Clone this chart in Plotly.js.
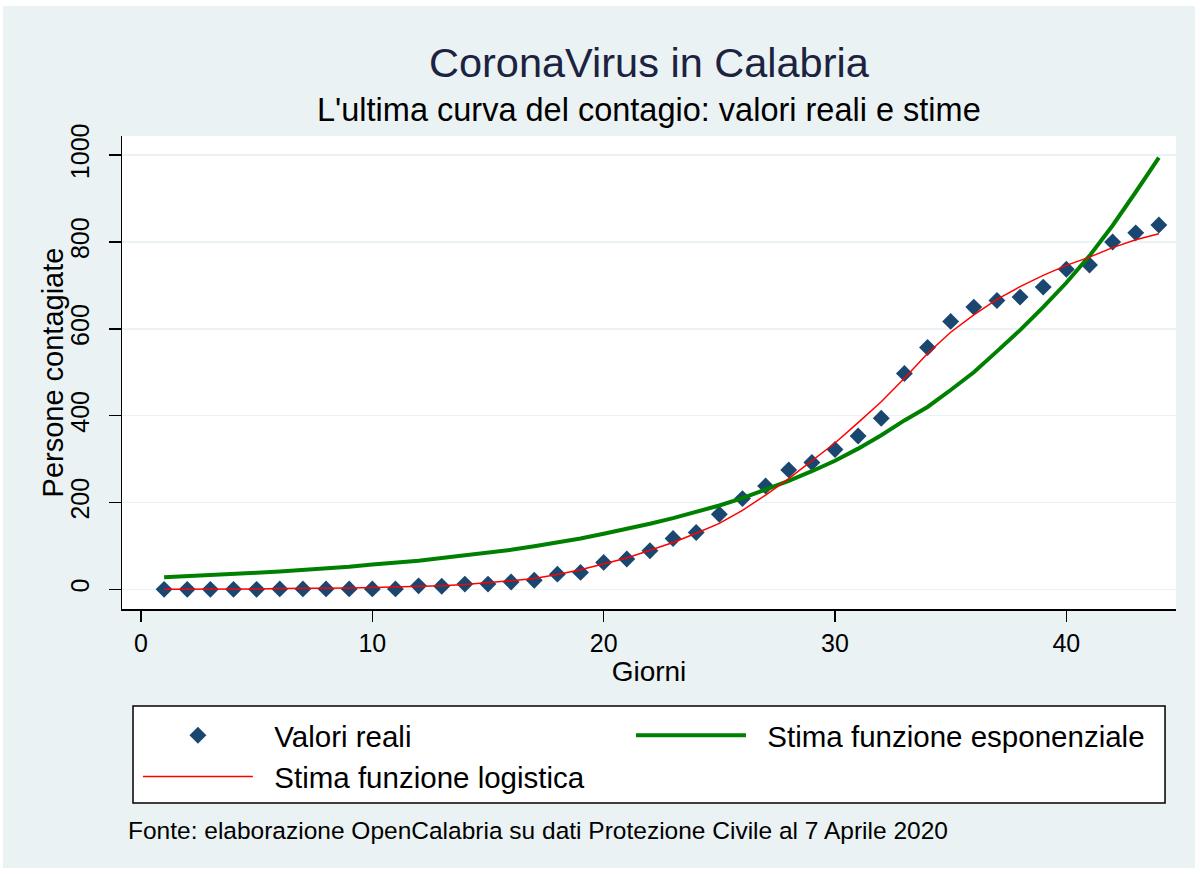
<!DOCTYPE html>
<html>
<head>
<meta charset="utf-8">
<script src="https://cdn.plot.ly/plotly-3.0.1.min.js"></script>
<style>
  html, body { margin: 0; padding: 0; background: #ffffff; }
  #chart { position: absolute; left: 3px; top: 6px; width: 1192px; height: 862px; }
</style>
</head>
<body>
<div id="chart"></div>
<script>
// Giorni (days)
const giorni = [1,2,3,4,5,6,7,8,9,10,11,12,13,14,15,16,17,18,19,20,21,22,
                23,24,25,26,27,28,29,30,31,32,33,34,35,36,37,38,39,40,41,42,43,44];
// Valori reali (observed cases)
const valoriReali = [0,0,0,0,0,1,1,1,1,1,1,8,7,12,12,17,21,35,39,62,70,89,
                     117,131,173,209,238,275,292,322,353,394,497,557,617,650,665,673,696,737,747,800,821,839];
// Stima funzione esponenziale
const stimaEsponenziale = [28,30,33,35,38,41,44,48,52,57,61,66,72,78,84,91,99,107,117,128,139,151,
                           164,178,193,210,229,250,272,296,324,355,389,420,459,500,548,597,650,706,768,838,915,994];
// Stima funzione logistica
const stimaLogistica = [0,0,0,1,1,2,2,3,3,4,5,6,8,11,15,20,25,34,45,58,72,90,
                        108,129,152,182,217,255,295,337,384,432,486,543,592,632,668,697,723,746,765,787,805,819];

const xTicks = [0,10,20,30,40];
const yTicks = [0,200,400,600,800,1000];

const FONT = 'Liberation Sans, Arial, sans-serif';

const traces = [
  {
    x: giorni, y: valoriReali, type: 'scatter', mode: 'markers',
    name: '\u00a0\u00a0Valori reali', legend: 'legend',
    marker: { symbol: 'diamond', size: 13, color: '#1a476f' }
  },
  {
    x: giorni, y: stimaEsponenziale, type: 'scatter', mode: 'lines',
    name: '\u00a0\u00a0Stima funzione esponenziale', legend: 'legend2',
    line: { color: '#008000', width: 4 }
  },
  {
    x: giorni, y: stimaLogistica, type: 'scatter', mode: 'lines',
    name: '\u00a0\u00a0Stima funzione logistica', legend: 'legend',
    line: { color: '#ff0000', width: 1.5 }
  }
];

const legendCommon = {
  orientation: 'v',
  yanchor: 'top',
  y: -0.2125,
  itemwidth: 110,
  bgcolor: 'rgba(0,0,0,0)', borderwidth: 0,
  font: { size: 29.5, family: FONT, color: '#000' },
  traceorder: 'normal'
};

const layout = {
  width: 1192, height: 862,
  paper_bgcolor: '#eaf2f3',
  plot_bgcolor: '#ffffff',
  margin: { l: 119, r: 19, t: 130, b: 259 },
  font: { family: FONT, color: '#000000' },
  showlegend: true,
  xaxis: {
    range: [-0.82, 44.74],
    tickvals: xTicks, ticktext: xTicks.map(String),
    ticks: 'outside', ticklen: 11, tickwidth: 1.5, tickcolor: '#000',
    showline: true, linecolor: '#000', linewidth: 1.5,
    showgrid: false, zeroline: false,
    tickfont: { size: 25, family: FONT },
    title: { text: 'Giorni', font: { size: 28, family: FONT }, standoff: 2 }
  },
  yaxis: {
    range: [-45.3, 1044],
    tickvals: yTicks, ticktext: yTicks.map(String),
    tickangle: -90,
    ticks: 'outside', ticklen: 12, tickwidth: 1.5, tickcolor: '#000',
    showline: true, linecolor: '#000', linewidth: 1.5,
    showgrid: true, gridcolor: '#eaf2f3', gridwidth: 1.5,
    zeroline: false,
    tickfont: { size: 25, family: FONT },
    ticklabelstandoff: 10
  },
  legend: Object.assign({}, legendCommon, { x: 0.0151, xanchor: 'left' }),
  legend2: Object.assign({}, legendCommon, { x: 0.4829, xanchor: 'left' }),
  shapes: [
    {
      type: 'rect', xref: 'paper', yref: 'paper', layer: 'above',
      x0: 0.01044, x1: 0.9896, y0: -0.410, y1: -0.205,
      fillcolor: '#ffffff', line: { color: '#000000', width: 1.5 }
    }
  ],
  annotations: [
    {
      text: 'CoronaVirus in Calabria', xref: 'paper', yref: 'paper',
      x: 0.5, y: 1, yshift: 74, xanchor: 'center', yanchor: 'middle', showarrow: false,
      font: { size: 41.5, family: FONT, color: '#1c2340' }
    },
    {
      text: "L'ultima curva del contagio: valori reali e stime", xref: 'paper', yref: 'paper',
      x: 0.5, y: 1, yshift: 26, xanchor: 'center', yanchor: 'middle', showarrow: false,
      font: { size: 32.5, family: FONT, color: '#000' }
    },
    {
      text: 'Persone contagiate', xref: 'paper', yref: 'paper',
      x: -0.0655, y: 0.5, xanchor: 'center', yanchor: 'middle', textangle: -90, showarrow: false,
      font: { size: 29, family: FONT, color: '#000' }
    },
    {
      text: 'Fonte: elaborazione OpenCalabria su dati Protezione Civile al 7 Aprile 2020',
      xref: 'paper', yref: 'paper',
      x: 0, xshift: 4, y: 0, yshift: -221, xanchor: 'left', yanchor: 'middle', showarrow: false,
      font: { size: 24.5, family: FONT, color: '#000' }
    }
  ]
};

Plotly.newPlot('chart', traces, layout, { displayModeBar: false, staticPlot: true });
</script>
</body>
</html>
